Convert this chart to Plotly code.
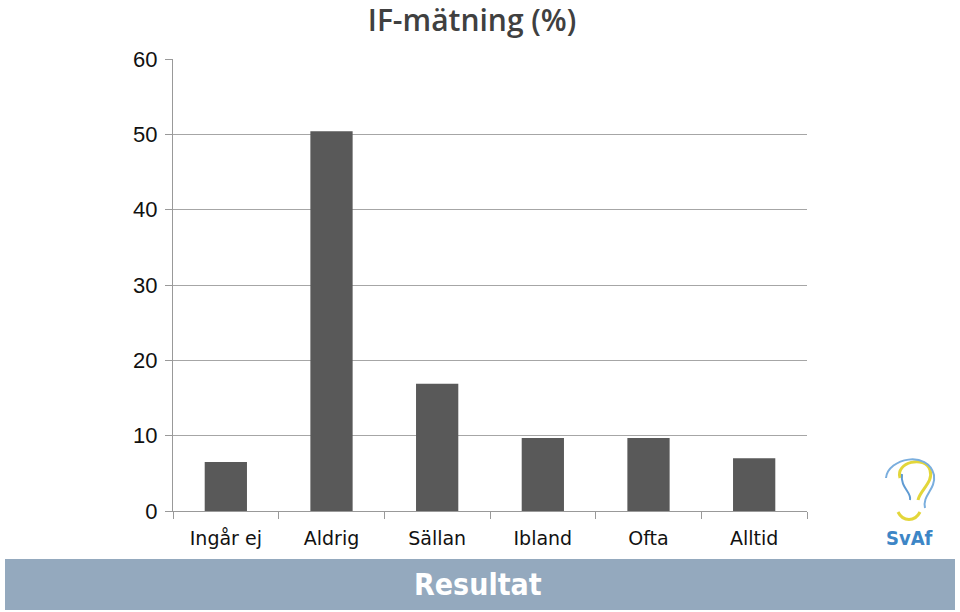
import plotly.graph_objects as go

categories = ["Ingår ej", "Aldrig", "Sällan", "Ibland", "Ofta", "Alltid"]
values = [6.5, 50.4, 16.9, 9.7, 9.7, 7.0]
y_ticks = [0, 10, 20, 30, 40, 50, 60]

fig = go.Figure()
fig.add_trace(go.Bar(x=categories, y=values, marker=dict(color="#595959", line=dict(width=0)),
                     width=0.4, hoverinfo="skip"))

W, H = 960, 612
L, R, T, B = 173, 153, 59, 101

fig.update_layout(
    width=W, height=H,
    margin=dict(l=L, r=R, t=T, b=B),
    paper_bgcolor="white", plot_bgcolor="white",
    showlegend=False,
    title=dict(text="IF-mätning (%)", x=472 / W, xanchor="center",
               y=1 - 20 / H, yanchor="middle",
               font=dict(family="Open Sans", size=30, color="#404040", weight=600)),
    xaxis=dict(
        type="category",
        showline=True, linecolor="#999999", linewidth=1,
        ticks="outside", tickson="boundaries", ticklen=7, tickcolor="#999999",
        tickfont=dict(family="DejaVu Sans", size=19, color="#111111"),
        showgrid=False, ticklabelstandoff=10,
    ),
    yaxis=dict(
        range=[0, 60], tickvals=y_ticks,
        showline=True, linecolor="#999999", linewidth=1,
        ticks="outside", ticklen=7, tickcolor="#999999",
        tickfont=dict(family="Liberation Sans", size=22, color="#111111"),
        showgrid=True, gridcolor="#a6a6a6", gridwidth=1,
        zeroline=False, ticklabelstandoff=3,
    ),
)

# bottom band
fig.add_shape(type="rect", xref="paper", yref="paper",
              x0=(5 - L) / (W - L - R), x1=(955 - L) / (W - L - R),
              y0=(H - B - 610) / (H - T - B), y1=(H - B - 559) / (H - T - B),
              fillcolor="#94a9be", line=dict(width=0), layer="above")
fig.add_annotation(text="<b>Resultat</b>", xref="paper", yref="paper",
                   x=(478 - L) / (W - L - R), y=(H - B - 584) / (H - T - B),
                   showarrow=False, xanchor="center", yanchor="middle",
                   font=dict(family="DejaVu Sans Condensed", size=30, color="white"))

# logo
def px(x):
    return (x - L) / (W - L - R)
def py(y):
    return (H - B - y) / (H - T - B)

fig.add_annotation(text="<b>SvAf</b>", xref="paper", yref="paper",
                   x=px(909), y=py(538), showarrow=False, xanchor="center", yanchor="middle",
                   font=dict(family="DejaVu Sans Condensed", size=20, color="#3d86c6"))
# ear / bulb strokes
fig.add_shape(type="path", xref="paper", yref="paper",
              path=f"M {px(900)} {py(478)} C {px(895)} {py(462)}, {px(925)} {py(455)}, {px(930)} {py(470)} "
                   f"C {px(934)} {py(482)}, {px(920)} {py(490)}, {px(918)} {py(500)}",
              line=dict(color="#e3d63a", width=3))
fig.add_shape(type="path", xref="paper", yref="paper",
              path=f"M {px(886)} {py(478)} C {px(888)} {py(458)}, {px(928)} {py(450)}, {px(934)} {py(475)} "
                   f"C {px(936)} {py(490)}, {px(922)} {py(495)}, {px(925)} {py(508)}",
              line=dict(color="#7aaede", width=2))
fig.add_shape(type="path", xref="paper", yref="paper",
              path=f"M {px(902)} {py(474)} C {px(900)} {py(488)}, {px(912)} {py(492)}, {px(910)} {py(500)}",
              line=dict(color="#5f9bd3", width=2))
fig.add_shape(type="path", xref="paper", yref="paper",
              path=f"M {px(898)} {py(512)} C {px(903)} {py(522)}, {px(915)} {py(522)}, {px(920)} {py(512)}",
              line=dict(color="#e3d63a", width=3))

fig.write_html("out.html")
